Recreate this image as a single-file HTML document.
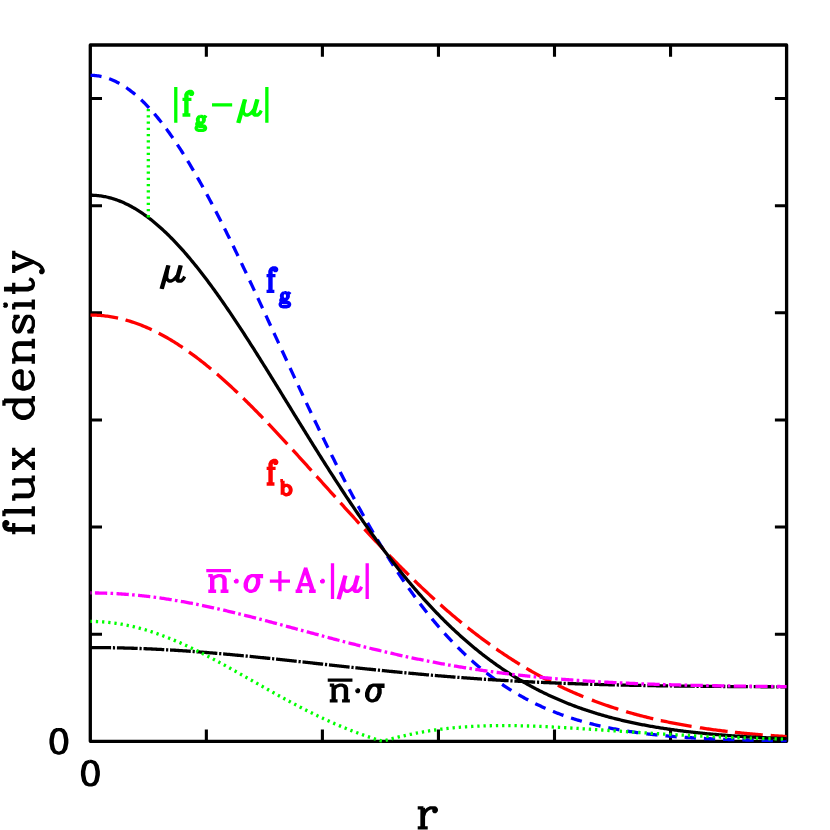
<!DOCTYPE html><html><head><meta charset="utf-8"><style>html,body{margin:0;padding:0;background:#fff}svg{display:block}</style></head><body><svg width="830" height="830" viewBox="0 0 830 830">
<rect width="830" height="830" fill="#fff"/>
<g fill="none" stroke="#000" stroke-width="3.3" stroke-linejoin="round" stroke-linecap="butt">
<path d="M90.3 45.0H786.6V741.3H90.3Z"/>
<path stroke-width="3.1" d="M206.35 741.3v-11.7M206.35 45.0v11.7M322.4 741.3v-11.7M322.4 45.0v11.7M438.45 741.3v-11.7M438.45 45.0v11.7M554.5 741.3v-11.7M554.5 45.0v11.7M670.55 741.3v-11.7M670.55 45.0v11.7M90.3 634.18h11.7M786.6 634.18h-11.7M90.3 527.05h11.7M786.6 527.05h-11.7M90.3 419.93h11.7M786.6 419.93h-11.7M90.3 312.81h11.7M786.6 312.81h-11.7M90.3 205.68h11.7M786.6 205.68h-11.7M90.3 98.56h11.7M786.6 98.56h-11.7"/>
</g>
<clipPath id="c"><rect x="90.3" y="43.0" width="697.9000000000001" height="699.9"/></clipPath><g clip-path="url(#c)">
<path d="M90.3 75.32L91.46 75.33L92.62 75.37L93.78 75.43L94.94 75.52L96.1 75.64L97.26 75.79L98.42 75.95L99.58 76.15L100.74 76.37L101.91 76.62L103.07 76.89L104.23 77.19L105.39 77.51L106.55 77.86L107.71 78.24L108.87 78.64L110.03 79.07L111.19 79.52L112.35 80L113.51 80.5L114.67 81.03L115.83 81.58L116.99 82.16L118.15 82.77L119.31 83.4L120.47 84.05L121.63 84.73L122.79 85.44L123.95 86.17L125.12 86.92L126.28 87.7L127.44 88.5L128.6 89.33L129.76 90.19L130.92 91.06L132.08 91.96L133.24 92.89L134.4 93.84L135.56 94.81L136.72 95.81L137.88 96.83L139.04 97.87L140.2 98.94L141.36 100.03L142.52 101.14L143.68 102.28L144.84 103.44L146 104.62L147.16 105.83L148.32 107.05L149.49 108.3L150.65 109.58L151.81 110.87L152.97 112.19L154.13 113.52L155.29 114.88L156.45 116.27L157.61 117.67L158.77 119.09L159.93 120.54L161.09 122L162.25 123.49L163.41 124.99L164.57 126.52L165.73 128.07L166.89 129.63L168.05 131.22L169.21 132.83L170.37 134.45L171.53 136.1L172.7 137.76L173.86 139.45L175.02 141.15L176.18 142.87L177.34 144.61L178.5 146.37L179.66 148.14L180.82 149.93L181.98 151.74L183.14 153.57L184.3 155.42L185.46 157.28L186.62 159.16L187.78 161.05L188.94 162.97L190.1 164.89L191.26 166.84L192.42 168.8L193.58 170.77L194.75 172.77L195.91 174.77L197.07 176.79L198.23 178.83L199.39 180.88L200.55 182.95L201.71 185.02L202.87 187.12L204.03 189.22L205.19 191.34L206.35 193.48L207.51 195.62L208.67 197.78L209.83 199.95L210.99 202.14L212.15 204.34L213.31 206.54L214.47 208.76L215.63 211L216.79 213.24L217.96 215.49L219.12 217.76L220.28 220.03L221.44 222.32L222.6 224.61L223.76 226.92L224.92 229.23L226.08 231.56L227.24 233.89L228.4 236.24L229.56 238.59L230.72 240.95L231.88 243.32L233.04 245.7L234.2 248.08L235.36 250.47L236.52 252.87L237.68 255.28L238.84 257.7L240 260.12L241.17 262.55L242.33 264.98L243.49 267.42L244.65 269.87L245.81 272.32L246.97 274.78L248.13 277.24L249.29 279.71L250.45 282.18L251.61 284.66L252.77 287.14L253.93 289.62L255.09 292.11L256.25 294.61L257.41 297.1L258.57 299.6L259.73 302.11L260.89 304.61L262.05 307.12L263.21 309.63L264.38 312.15L265.54 314.66L266.7 317.18L267.86 319.7L269.02 322.22L270.18 324.74L271.34 327.26L272.5 329.79L273.66 332.31L274.82 334.84L275.98 337.36L277.14 339.89L278.3 342.41L279.46 344.93L280.62 347.46L281.78 349.98L282.94 352.5L284.1 355.02L285.26 357.54L286.42 360.06L287.59 362.57L288.75 365.09L289.91 367.6L291.07 370.11L292.23 372.62L293.39 375.12L294.55 377.62L295.71 380.12L296.87 382.62L298.03 385.11L299.19 387.6L300.35 390.08L301.51 392.57L302.67 395.04L303.83 397.52L304.99 399.98L306.15 402.45L307.31 404.91L308.47 407.36L309.63 409.81L310.8 412.26L311.96 414.7L313.12 417.13L314.28 419.56L315.44 421.98L316.6 424.4L317.76 426.81L318.92 429.21L320.08 431.61L321.24 434.01L322.4 436.39L323.56 438.77L324.72 441.14L325.88 443.51L327.04 445.86L328.2 448.21L329.36 450.56L330.52 452.89L331.68 455.22L332.84 457.54L334.01 459.86L335.17 462.16L336.33 464.46L337.49 466.75L338.65 469.03L339.81 471.3L340.97 473.56L342.13 475.82L343.29 478.06L344.45 480.3L345.61 482.53L346.77 484.75L347.93 486.96L349.09 489.16L350.25 491.35L351.41 493.53L352.57 495.7L353.73 497.87L354.89 500.02L356.05 502.17L357.22 504.3L358.38 506.42L359.54 508.54L360.7 510.64L361.86 512.74L363.02 514.82L364.18 516.9L365.34 518.96L366.5 521.01L367.66 523.05L368.82 525.09L369.98 527.11L371.14 529.12L372.3 531.12L373.46 533.11L374.62 535.09L375.78 537.06L376.94 539.01L378.1 540.96L379.26 542.9L380.43 544.82L381.59 546.73L382.75 548.64L383.91 550.53L385.07 552.41L386.23 554.27L387.39 556.13L388.55 557.98L389.71 559.81L390.87 561.64L392.03 563.45L393.19 565.25L394.35 567.04L395.51 568.82L396.67 570.58L397.83 572.34L398.99 574.08L400.15 575.81L401.31 577.53L402.47 579.24L403.64 580.94L404.8 582.62L405.96 584.3L407.12 585.96L408.28 587.61L409.44 589.25L410.6 590.88L411.76 592.49L412.92 594.1L414.08 595.69L415.24 597.27L416.4 598.84L417.56 600.4L418.72 601.94L419.88 603.48L421.04 605L422.2 606.51L423.36 608.01L424.52 609.5L425.68 610.98L426.85 612.45L428.01 613.9L429.17 615.34L430.33 616.77L431.49 618.19L432.65 619.6L433.81 621L434.97 622.38L436.13 623.76L437.29 625.12L438.45 626.47L439.61 627.81L440.77 629.14L441.93 630.46L443.09 631.76L444.25 633.06L445.41 634.34L446.57 635.61L447.73 636.88L448.89 638.13L450.06 639.37L451.22 640.6L452.38 641.81L453.54 643.02L454.7 644.22L455.86 645.4L457.02 646.58L458.18 647.74L459.34 648.89L460.5 650.04L461.66 651.17L462.82 652.29L463.98 653.4L465.14 654.5L466.3 655.59L467.46 656.67L468.62 657.74L469.78 658.8L470.94 659.85L472.1 660.89L473.27 661.91L474.43 662.93L475.59 663.94L476.75 664.94L477.91 665.93L479.07 666.91L480.23 667.88L481.39 668.83L482.55 669.78L483.71 670.72L484.87 671.65L486.03 672.57L487.19 673.48L488.35 674.38L489.51 675.28L490.67 676.16L491.83 677.03L492.99 677.9L494.15 678.75L495.31 679.6L496.48 680.43L497.64 681.26L498.8 682.08L499.96 682.89L501.12 683.69L502.28 684.48L503.44 685.27L504.6 686.04L505.76 686.81L506.92 687.57L508.08 688.31L509.24 689.06L510.4 689.79L511.56 690.51L512.72 691.23L513.88 691.94L515.04 692.64L516.2 693.33L517.36 694.01L518.52 694.69L519.69 695.36L520.85 696.02L522.01 696.67L523.17 697.31L524.33 697.95L525.49 698.58L526.65 699.2L527.81 699.82L528.97 700.42L530.13 701.02L531.29 701.62L532.45 702.2L533.61 702.78L534.77 703.35L535.93 703.92L537.09 704.47L538.25 705.02L539.41 705.57L540.57 706.1L541.73 706.63L542.89 707.16L544.06 707.67L545.22 708.18L546.38 708.69L547.54 709.19L548.7 709.68L549.86 710.16L551.02 710.64L552.18 711.11L553.34 711.58L554.5 712.04L555.66 712.49L556.82 712.94L557.98 713.38L559.14 713.82L560.3 714.25L561.46 714.68L562.62 715.1L563.78 715.51L564.94 715.92L566.11 716.32L567.27 716.72L568.43 717.11L569.59 717.5L570.75 717.88L571.91 718.25L573.07 718.62L574.23 718.99L575.39 719.35L576.55 719.71L577.71 720.06L578.87 720.4L580.03 720.75L581.19 721.08L582.35 721.41L583.51 721.74L584.67 722.06L585.83 722.38L586.99 722.69L588.15 723L589.32 723.31L590.48 723.61L591.64 723.9L592.8 724.2L593.96 724.48L595.12 724.77L596.28 725.04L597.44 725.32L598.6 725.59L599.76 725.86L600.92 726.12L602.08 726.38L603.24 726.63L604.4 726.88L605.56 727.13L606.72 727.38L607.88 727.62L609.04 727.85L610.2 728.09L611.36 728.32L612.52 728.54L613.69 728.76L614.85 728.98L616.01 729.2L617.17 729.41L618.33 729.62L619.49 729.83L620.65 730.03L621.81 730.23L622.97 730.43L624.13 730.62L625.29 730.81L626.45 731L627.61 731.18L628.77 731.36L629.93 731.54L631.09 731.72L632.25 731.89L633.41 732.06L634.57 732.23L635.74 732.39L636.9 732.56L638.06 732.72L639.22 732.87L640.38 733.03L641.54 733.18L642.7 733.33L643.86 733.47L645.02 733.62L646.18 733.76L647.34 733.9L648.5 734.04L649.66 734.17L650.82 734.31L651.98 734.44L653.14 734.57L654.3 734.69L655.46 734.82L656.62 734.94L657.78 735.06L658.95 735.18L660.11 735.29L661.27 735.41L662.43 735.52L663.59 735.63L664.75 735.74L665.91 735.85L667.07 735.95L668.23 736.05L669.39 736.16L670.55 736.25L671.71 736.35L672.87 736.45L674.03 736.54L675.19 736.64L676.35 736.73L677.51 736.82L678.67 736.9L679.83 736.99L680.99 737.07L682.15 737.16L683.32 737.24L684.48 737.32L685.64 737.4L686.8 737.48L687.96 737.55L689.12 737.63L690.28 737.7L691.44 737.77L692.6 737.84L693.76 737.91L694.92 737.98L696.08 738.05L697.24 738.11L698.4 738.18L699.56 738.24L700.72 738.3L701.88 738.36L703.04 738.42L704.2 738.48L705.37 738.54L706.53 738.6L707.69 738.65L708.85 738.71L710.01 738.76L711.17 738.81L712.33 738.86L713.49 738.92L714.65 738.96L715.81 739.01L716.97 739.06L718.13 739.11L719.29 739.15L720.45 739.2L721.61 739.24L722.77 739.29L723.93 739.33L725.09 739.37L726.25 739.41L727.41 739.45L728.58 739.49L729.74 739.53L730.9 739.57L732.06 739.6L733.22 739.64L734.38 739.68L735.54 739.71L736.7 739.74L737.86 739.78L739.02 739.81L740.18 739.84L741.34 739.87L742.5 739.91L743.66 739.94L744.82 739.97L745.98 739.99L747.14 740.02L748.3 740.05L749.46 740.08L750.62 740.11L751.79 740.13L752.95 740.16L754.11 740.18L755.27 740.21L756.43 740.23L757.59 740.26L758.75 740.28L759.91 740.3L761.07 740.32L762.23 740.35L763.39 740.37L764.55 740.39L765.71 740.41L766.87 740.43L768.03 740.45L769.19 740.47L770.35 740.49L771.51 740.5L772.67 740.52L773.83 740.54L775 740.56L776.16 740.57L777.32 740.59L778.48 740.61L779.64 740.62L780.8 740.64L781.96 740.65L783.12 740.67L784.28 740.68L785.44 740.7L786.6 740.71" fill="none" stroke="#0000ff" stroke-width="3.3" stroke-linecap="butt" stroke-linejoin="round" stroke-dasharray="11.3 7.96"/>
<path d="M90.3 315.07L90.53 315.07L91.92 315.08L93.32 315.11L94.71 315.15L96.1 315.2L97.5 315.28L98.89 315.36L100.28 315.46L101.67 315.58L103.07 315.72L104.46 315.86L105.85 316.03L107.24 316.2L108.64 316.4L110.03 316.61L111.42 316.83L112.81 317.07L114.21 317.33L115.6 317.6L116.99 317.88L118.08 318.11M125.55 319.96L125.58 319.97L126.97 320.36L128.36 320.76L129.76 321.19L131.15 321.62L132.54 322.07L133.93 322.54L135.33 323.02L136.72 323.51L138.11 324.02L139.51 324.54L140.9 325.08L142.29 325.63L143.68 326.2L145.08 326.78L146.47 327.37L147.86 327.98L149.25 328.6L150.65 329.24L151.75 329.75M158.65 333.16L158.77 333.22L160.16 333.95L161.55 334.69L162.95 335.45L164.34 336.22L165.73 337L167.13 337.79L168.52 338.6L169.91 339.42L171.3 340.25L172.7 341.1L174.09 341.96L175.48 342.83L176.87 343.71L178.27 344.61L179.66 345.52L181.05 346.44L182.44 347.37L182.67 347.52M189 351.92L189.17 352.04L190.57 353.04L191.96 354.06L193.35 355.08L194.75 356.11L196.14 357.16L197.53 358.22L198.92 359.28L200.32 360.36L201.71 361.45L203.1 362.55L204.49 363.66L205.89 364.78L207.28 365.91L208.67 367.05L210.06 368.2L211.11 369.07M216.98 374.06L217.03 374.1L218.42 375.3L219.81 376.52L221.2 377.75L222.6 378.98L223.99 380.22L225.38 381.48L226.77 382.74L228.17 384.01L229.56 385.28L230.95 386.57L232.35 387.86L233.74 389.16L235.13 390.47L236.52 391.79L237.69 392.9M243.23 398.24L243.25 398.26L244.65 399.62L246.04 400.99L247.43 402.36L248.82 403.74L250.22 405.13L251.61 406.52L253 407.92L254.39 409.33L255.79 410.74L257.18 412.16L258.57 413.58L259.97 415.01L261.36 416.44L262.75 417.88L262.97 418.11M268.3 423.66L268.32 423.69L269.71 425.15L271.11 426.62L272.5 428.09L273.89 429.57L275.28 431.05L276.68 432.54L278.07 434.03L279.46 435.52L280.85 437.02L282.25 438.52L283.64 440.02L285.03 441.53L286.42 443.04L287.42 444.12M292.62 449.8L292.69 449.87L294.08 451.4L295.48 452.93L296.87 454.46L298.26 455.99L299.65 457.53L301.05 459.06L302.44 460.6L303.83 462.14L305.22 463.68L306.62 465.23L308.01 466.77L309.4 468.32L310.8 469.86L311.41 470.55M316.56 476.28L316.6 476.32L317.99 477.87L319.38 479.42L320.78 480.97L322.17 482.52L323.56 484.07L324.95 485.62L326.35 487.17L327.74 488.72L329.13 490.27L330.52 491.82L331.92 493.37L333.31 494.92L334.7 496.47L335.28 497.11M340.43 502.82L340.5 502.9L341.9 504.44L343.29 505.98L344.68 507.52L346.07 509.06L347.47 510.59L348.86 512.13L350.25 513.66L351.64 515.19L353.04 516.71L354.43 518.24L355.82 519.76L357.22 521.28L358.61 522.79L359.28 523.53M364.5 529.19L364.64 529.34L366.03 530.84L367.43 532.34L368.82 533.83L370.21 535.32L371.61 536.81L373 538.3L374.39 539.78L375.78 541.26L377.18 542.73L378.57 544.2L379.96 545.67L381.35 547.13L382.75 548.59L383.69 549.58M389.03 555.13L389.24 555.34L390.64 556.78L392.03 558.21L393.42 559.64L394.82 561.06L396.21 562.47L397.6 563.89L398.99 565.29L400.39 566.69L401.78 568.09L403.17 569.48L404.56 570.87L405.96 572.25L407.35 573.63L408.74 575L408.75 575.01M414.26 580.38L414.31 580.43L415.7 581.78L417.1 583.12L418.49 584.45L419.88 585.78L421.27 587.1L422.67 588.42L424.06 589.73L425.45 591.03L426.85 592.33L428.24 593.63L429.63 594.91L431.02 596.19L432.42 597.47L433.81 598.74L434.68 599.53M440.42 604.68L440.54 604.78L441.93 606.02L443.32 607.24L444.72 608.46L446.11 609.68L447.5 610.89L448.89 612.09L450.29 613.28L451.68 614.47L453.07 615.65L454.46 616.83L455.86 617.99L457.25 619.16L458.64 620.31L460.04 621.46L461.43 622.6L461.72 622.84M467.71 627.68L467.93 627.84L469.32 628.95L470.71 630.05L472.1 631.14L473.5 632.22L474.89 633.3L476.28 634.37L477.67 635.43L479.07 636.49L480.46 637.54L481.85 638.58L483.25 639.62L484.64 640.65L486.03 641.67L487.42 642.69L488.82 643.69L490.04 644.57M496.32 649.02L496.48 649.12L497.87 650.09L499.26 651.04L500.65 651.99L502.05 652.94L503.44 653.88L504.83 654.81L506.22 655.73L507.62 656.65L509.01 657.56L510.4 658.46L511.79 659.35L513.19 660.24L514.58 661.13L515.97 662L517.36 662.87L518.76 663.73L519.75 664.35M526.35 668.32L526.42 668.36L527.81 669.18L529.2 669.99L530.59 670.8L531.99 671.59L533.38 672.39L534.77 673.17L536.16 673.95L537.56 674.73L538.95 675.49L540.34 676.25L541.73 677.01L543.13 677.75L544.52 678.49L545.91 679.23L547.3 679.96L548.7 680.68L550.09 681.39L550.88 681.8M557.78 685.23L557.98 685.33L559.37 686L560.77 686.67L562.16 687.33L563.55 687.99L564.94 688.63L566.34 689.28L567.73 689.91L569.12 690.55L570.51 691.17L571.91 691.79L573.3 692.4L574.69 693.01L576.09 693.61L577.48 694.21L578.87 694.8L580.26 695.38L581.66 695.96L583.05 696.54L583.34 696.65M591.89 700.04L592.1 700.12L593.49 700.66L594.89 701.18L596.28 701.7L597.67 702.22L599.06 702.73L600.46 703.23L601.85 703.73L603.24 704.23L604.63 704.71L606.03 705.2L607.42 705.68L608.81 706.15L610.2 706.62L611.6 707.08L612.99 707.54L614.38 708L615.77 708.44L617.17 708.89L618.32 709.25M626.17 711.64L626.22 711.66L627.61 712.07L629 712.47L630.4 712.87L631.79 713.26L633.18 713.65L634.57 714.04L635.97 714.42L637.36 714.8L638.75 715.17L640.14 715.54L641.54 715.9L642.93 716.26L644.32 716.62L645.72 716.97L647.11 717.32L648.5 717.66L649.89 718L651.29 718.33L652.68 718.66L653.24 718.8M660.79 720.52L660.8 720.52L662.19 720.82L663.59 721.12L664.98 721.42L666.37 721.71L667.76 722L669.16 722.29L670.55 722.57L671.94 722.85L673.34 723.13L674.73 723.4L676.12 723.67L677.51 723.93L678.91 724.2L680.3 724.45L681.69 724.71L683.08 724.96L684.48 725.21L685.87 725.46L687.26 725.7L688.65 725.94L690.05 726.17L691.44 726.41L691.58 726.43M699.87 727.75L700.03 727.78L701.42 727.99L702.81 728.2L704.2 728.4L705.6 728.61L706.99 728.81L708.38 729L709.77 729.2L711.17 729.39L712.56 729.58L713.95 729.77L715.35 729.95L716.74 730.14L718.13 730.32L719.52 730.49L720.92 730.67L722.31 730.84L723.7 731.01L725.09 731.18L726.49 731.34L727.62 731.47M734.88 732.29L735.07 732.31L736.47 732.46L737.86 732.6L739.25 732.75L740.64 732.89L742.04 733.03L743.43 733.17L744.82 733.31L746.21 733.44L747.61 733.57L749 733.7L750.39 733.83L751.79 733.96L753.18 734.08L754.57 734.2L755.96 734.33L757.36 734.44L758.75 734.56L760.14 734.68L761.53 734.79L762.75 734.89M770.69 735.5L770.82 735.51L772.21 735.61L773.6 735.71L775 735.81L776.39 735.9L777.78 736L779.17 736.09L780.57 736.18L781.96 736.27L783.35 736.36L784.74 736.45L786.14 736.54L786.6 736.57" fill="none" stroke="#ff0000" stroke-width="3.3" stroke-linecap="butt" stroke-linejoin="round"/>
<path d="M90.3 195.19L91.46 195.2L92.62 195.23L93.78 195.28L94.94 195.34L96.1 195.42L97.26 195.52L98.42 195.64L99.58 195.78L100.74 195.94L101.91 196.11L103.07 196.3L104.23 196.51L105.39 196.74L106.55 196.99L107.71 197.25L108.87 197.54L110.03 197.84L111.19 198.16L112.35 198.49L113.51 198.85L114.67 199.22L115.83 199.61L116.99 200.02L118.15 200.45L119.31 200.89L120.47 201.35L121.63 201.83L122.79 202.33L123.95 202.85L125.12 203.38L126.28 203.93L127.44 204.5L128.6 205.08L129.76 205.69L130.92 206.3L132.08 206.94L133.24 207.6L134.4 208.27L135.56 208.95L136.72 209.66L137.88 210.38L139.04 211.12L140.2 211.87L141.36 212.65L142.52 213.43L143.68 214.24L144.84 215.06L146 215.9L147.16 216.75L148.32 217.62L149.49 218.51L150.65 219.41L151.81 220.32L152.97 221.26L154.13 222.21L155.29 223.17L156.45 224.15L157.61 225.14L158.77 226.16L159.93 227.18L161.09 228.22L162.25 229.28L163.41 230.35L164.57 231.43L165.73 232.53L166.89 233.65L168.05 234.77L169.21 235.92L170.37 237.08L171.53 238.25L172.7 239.43L173.86 240.63L175.02 241.84L176.18 243.07L177.34 244.31L178.5 245.56L179.66 246.83L180.82 248.11L181.98 249.4L183.14 250.71L184.3 252.02L185.46 253.36L186.62 254.7L187.78 256.05L188.94 257.42L190.1 258.8L191.26 260.19L192.42 261.6L193.58 263.01L194.75 264.44L195.91 265.88L197.07 267.33L198.23 268.79L199.39 270.26L200.55 271.74L201.71 273.24L202.87 274.74L204.03 276.26L205.19 277.78L206.35 279.32L207.51 280.86L208.67 282.42L209.83 283.98L210.99 285.56L212.15 287.14L213.31 288.73L214.47 290.33L215.63 291.95L216.79 293.57L217.96 295.2L219.12 296.83L220.28 298.48L221.44 300.13L222.6 301.8L223.76 303.47L224.92 305.15L226.08 306.83L227.24 308.53L228.4 310.23L229.56 311.94L230.72 313.65L231.88 315.38L233.04 317.1L234.2 318.84L235.36 320.58L236.52 322.33L237.68 324.09L238.84 325.85L240 327.62L241.17 329.39L242.33 331.17L243.49 332.96L244.65 334.75L245.81 336.54L246.97 338.34L248.13 340.15L249.29 341.96L250.45 343.77L251.61 345.59L252.77 347.41L253.93 349.24L255.09 351.07L256.25 352.91L257.41 354.75L258.57 356.59L259.73 358.44L260.89 360.29L262.05 362.14L263.21 364L264.38 365.86L265.54 367.72L266.7 369.58L267.86 371.45L269.02 373.32L270.18 375.19L271.34 377.06L272.5 378.94L273.66 380.82L274.82 382.7L275.98 384.58L277.14 386.46L278.3 388.34L279.46 390.23L280.62 392.11L281.78 394L282.94 395.89L284.1 397.77L285.26 399.66L286.42 401.55L287.59 403.44L288.75 405.33L289.91 407.22L291.07 409.1L292.23 410.99L293.39 412.88L294.55 414.77L295.71 416.65L296.87 418.54L298.03 420.42L299.19 422.31L300.35 424.19L301.51 426.07L302.67 427.95L303.83 429.83L304.99 431.71L306.15 433.58L307.31 435.45L308.47 437.32L309.63 439.19L310.8 441.06L311.96 442.93L313.12 444.79L314.28 446.65L315.44 448.5L316.6 450.36L317.76 452.21L318.92 454.06L320.08 455.9L321.24 457.75L322.4 459.58L323.56 461.42L324.72 463.25L325.88 465.08L327.04 466.91L328.2 468.73L329.36 470.55L330.52 472.36L331.68 474.17L332.84 475.97L334.01 477.77L335.17 479.57L336.33 481.36L337.49 483.15L338.65 484.94L339.81 486.71L340.97 488.49L342.13 490.26L343.29 492.02L344.45 493.78L345.61 495.54L346.77 497.29L347.93 499.03L349.09 500.77L350.25 502.5L351.41 504.23L352.57 505.95L353.73 507.67L354.89 509.38L356.05 511.09L357.22 512.79L358.38 514.48L359.54 516.17L360.7 517.85L361.86 519.53L363.02 521.2L364.18 522.87L365.34 524.52L366.5 526.17L367.66 527.82L368.82 529.46L369.98 531.09L371.14 532.72L372.3 534.34L373.46 535.95L374.62 537.56L375.78 539.16L376.94 540.75L378.1 542.34L379.26 543.92L380.43 545.49L381.59 547.05L382.75 548.61L383.91 550.17L385.07 551.71L386.23 553.25L387.39 554.78L388.55 556.3L389.71 557.82L390.87 559.33L392.03 560.83L393.19 562.32L394.35 563.81L395.51 565.29L396.67 566.76L397.83 568.23L398.99 569.69L400.15 571.14L401.31 572.58L402.47 574.01L403.64 575.44L404.8 576.86L405.96 578.28L407.12 579.68L408.28 581.08L409.44 582.47L410.6 583.85L411.76 585.22L412.92 586.59L414.08 587.95L415.24 589.3L416.4 590.64L417.56 591.98L418.72 593.31L419.88 594.63L421.04 595.94L422.2 597.25L423.36 598.54L424.52 599.83L425.68 601.12L426.85 602.39L428.01 603.65L429.17 604.91L430.33 606.16L431.49 607.41L432.65 608.64L433.81 609.87L434.97 611.09L436.13 612.3L437.29 613.5L438.45 614.7L439.61 615.88L440.77 617.06L441.93 618.24L443.09 619.4L444.25 620.56L445.41 621.71L446.57 622.85L447.73 623.98L448.89 625.11L450.06 626.23L451.22 627.34L452.38 628.44L453.54 629.53L454.7 630.62L455.86 631.7L457.02 632.77L458.18 633.83L459.34 634.89L460.5 635.94L461.66 636.98L462.82 638.01L463.98 639.04L465.14 640.06L466.3 641.07L467.46 642.07L468.62 643.07L469.78 644.06L470.94 645.04L472.1 646.01L473.27 646.98L474.43 647.94L475.59 648.89L476.75 649.83L477.91 650.77L479.07 651.7L480.23 652.62L481.39 653.53L482.55 654.44L483.71 655.34L484.87 656.24L486.03 657.12L487.19 658L488.35 658.87L489.51 659.74L490.67 660.59L491.83 661.44L492.99 662.29L494.15 663.12L495.31 663.95L496.48 664.78L497.64 665.59L498.8 666.4L499.96 667.2L501.12 668L502.28 668.79L503.44 669.57L504.6 670.35L505.76 671.11L506.92 671.88L508.08 672.63L509.24 673.38L510.4 674.12L511.56 674.86L512.72 675.59L513.88 676.31L515.04 677.03L516.2 677.74L517.36 678.44L518.52 679.14L519.69 679.83L520.85 680.52L522.01 681.19L523.17 681.87L524.33 682.53L525.49 683.19L526.65 683.85L527.81 684.5L528.97 685.14L530.13 685.78L531.29 686.41L532.45 687.03L533.61 687.65L534.77 688.26L535.93 688.87L537.09 689.47L538.25 690.07L539.41 690.66L540.57 691.24L541.73 691.82L542.89 692.39L544.06 692.96L545.22 693.52L546.38 694.08L547.54 694.63L548.7 695.18L549.86 695.72L551.02 696.25L552.18 696.78L553.34 697.31L554.5 697.83L555.66 698.34L556.82 698.85L557.98 699.36L559.14 699.85L560.3 700.35L561.46 700.84L562.62 701.32L563.78 701.8L564.94 702.28L566.11 702.75L567.27 703.21L568.43 703.67L569.59 704.13L570.75 704.58L571.91 705.02L573.07 705.46L574.23 705.9L575.39 706.33L576.55 706.76L577.71 707.18L578.87 707.6L580.03 708.02L581.19 708.43L582.35 708.83L583.51 709.23L584.67 709.63L585.83 710.02L586.99 710.41L588.15 710.8L589.32 711.18L590.48 711.55L591.64 711.92L592.8 712.29L593.96 712.66L595.12 713.02L596.28 713.37L597.44 713.73L598.6 714.07L599.76 714.42L600.92 714.76L602.08 715.1L603.24 715.43L604.4 715.76L605.56 716.09L606.72 716.41L607.88 716.73L609.04 717.04L610.2 717.35L611.36 717.66L612.52 717.97L613.69 718.27L614.85 718.56L616.01 718.86L617.17 719.15L618.33 719.44L619.49 719.72L620.65 720L621.81 720.28L622.97 720.56L624.13 720.83L625.29 721.1L626.45 721.36L627.61 721.62L628.77 721.88L629.93 722.14L631.09 722.39L632.25 722.64L633.41 722.89L634.57 723.13L635.74 723.38L636.9 723.61L638.06 723.85L639.22 724.08L640.38 724.31L641.54 724.54L642.7 724.77L643.86 724.99L645.02 725.21L646.18 725.42L647.34 725.64L648.5 725.85L649.66 726.06L650.82 726.26L651.98 726.47L653.14 726.67L654.3 726.87L655.46 727.07L656.62 727.26L657.78 727.45L658.95 727.64L660.11 727.83L661.27 728.01L662.43 728.2L663.59 728.38L664.75 728.56L665.91 728.73L667.07 728.91L668.23 729.08L669.39 729.25L670.55 729.41L671.71 729.58L672.87 729.74L674.03 729.9L675.19 730.06L676.35 730.22L677.51 730.37L678.67 730.53L679.83 730.68L680.99 730.83L682.15 730.98L683.32 731.12L684.48 731.27L685.64 731.41L686.8 731.55L687.96 731.69L689.12 731.82L690.28 731.96L691.44 732.09L692.6 732.22L693.76 732.35L694.92 732.48L696.08 732.6L697.24 732.73L698.4 732.85L699.56 732.97L700.72 733.09L701.88 733.21L703.04 733.33L704.2 733.44L705.37 733.56L706.53 733.67L707.69 733.78L708.85 733.89L710.01 734L711.17 734.1L712.33 734.21L713.49 734.31L714.65 734.41L715.81 734.51L716.97 734.61L718.13 734.71L719.29 734.81L720.45 734.9L721.61 735L722.77 735.09L723.93 735.18L725.09 735.27L726.25 735.36L727.41 735.45L728.58 735.54L729.74 735.62L730.9 735.71L732.06 735.79L733.22 735.87L734.38 735.95L735.54 736.03L736.7 736.11L737.86 736.19L739.02 736.27L740.18 736.34L741.34 736.42L742.5 736.49L743.66 736.56L744.82 736.64L745.98 736.71L747.14 736.78L748.3 736.84L749.46 736.91L750.62 736.98L751.79 737.04L752.95 737.11L754.11 737.17L755.27 737.24L756.43 737.3L757.59 737.36L758.75 737.42L759.91 737.48L761.07 737.54L762.23 737.6L763.39 737.65L764.55 737.71L765.71 737.77L766.87 737.82L768.03 737.87L769.19 737.93L770.35 737.98L771.51 738.03L772.67 738.08L773.83 738.13L775 738.18L776.16 738.23L777.32 738.28L778.48 738.33L779.64 738.37L780.8 738.42L781.96 738.46L783.12 738.51L784.28 738.55L785.44 738.6L786.6 738.64" fill="none" stroke="#000" stroke-width="3.3" stroke-linecap="butt" stroke-linejoin="round"/>
<path d="M90.3 647.56L91.46 647.56L92.62 647.56L93.78 647.56L94.94 647.57L96.1 647.57L97.26 647.58L98.42 647.58L99.58 647.59L100.74 647.6L101.91 647.61L103.07 647.62L104.23 647.63L105.39 647.65L106.55 647.66L107.71 647.67L108.87 647.69L110.03 647.71L111.19 647.73L112.35 647.75L113.51 647.77L114.67 647.79L115.83 647.81L116.99 647.83L118.15 647.86L119.31 647.88L120.47 647.91L121.63 647.94L122.79 647.97L123.95 648L125.12 648.03L126.28 648.06L127.44 648.09L128.6 648.12L129.76 648.16L130.92 648.19L132.08 648.23L133.24 648.27L134.4 648.31L135.56 648.35L136.72 648.39L137.88 648.43L139.04 648.47L140.2 648.51L141.36 648.56L142.52 648.61L143.68 648.65L144.84 648.7L146 648.75L147.16 648.8L148.32 648.85L149.49 648.9L150.65 648.95L151.81 649L152.97 649.06L154.13 649.11L155.29 649.17L156.45 649.23L157.61 649.28L158.77 649.34L159.93 649.4L161.09 649.46L162.25 649.53L163.41 649.59L164.57 649.65L165.73 649.72L166.89 649.78L168.05 649.85L169.21 649.91L170.37 649.98L171.53 650.05L172.7 650.12L173.86 650.19L175.02 650.26L176.18 650.33L177.34 650.41L178.5 650.48L179.66 650.56L180.82 650.63L181.98 650.71L183.14 650.78L184.3 650.86L185.46 650.94L186.62 651.02L187.78 651.1L188.94 651.18L190.1 651.26L191.26 651.35L192.42 651.43L193.58 651.52L194.75 651.6L195.91 651.69L197.07 651.77L198.23 651.86L199.39 651.95L200.55 652.04L201.71 652.13L202.87 652.22L204.03 652.31L205.19 652.4L206.35 652.49L207.51 652.59L208.67 652.68L209.83 652.78L210.99 652.87L212.15 652.97L213.31 653.06L214.47 653.16L215.63 653.26L216.79 653.36L217.96 653.46L219.12 653.56L220.28 653.66L221.44 653.76L222.6 653.86L223.76 653.96L224.92 654.07L226.08 654.17L227.24 654.27L228.4 654.38L229.56 654.48L230.72 654.59L231.88 654.7L233.04 654.8L234.2 654.91L235.36 655.02L236.52 655.13L237.68 655.24L238.84 655.35L240 655.46L241.17 655.57L242.33 655.68L243.49 655.79L244.65 655.9L245.81 656.01L246.97 656.13L248.13 656.24L249.29 656.36L250.45 656.47L251.61 656.58L252.77 656.7L253.93 656.82L255.09 656.93L256.25 657.05L257.41 657.17L258.57 657.28L259.73 657.4L260.89 657.52L262.05 657.64L263.21 657.76L264.38 657.88L265.54 658L266.7 658.12L267.86 658.24L269.02 658.36L270.18 658.48L271.34 658.6L272.5 658.72L273.66 658.84L274.82 658.96L275.98 659.09L277.14 659.21L278.3 659.33L279.46 659.46L280.62 659.58L281.78 659.7L282.94 659.83L284.1 659.95L285.26 660.08L286.42 660.2L287.59 660.32L288.75 660.45L289.91 660.58L291.07 660.7L292.23 660.83L293.39 660.95L294.55 661.08L295.71 661.2L296.87 661.33L298.03 661.46L299.19 661.58L300.35 661.71L301.51 661.84L302.67 661.96L303.83 662.09L304.99 662.22L306.15 662.34L307.31 662.47L308.47 662.6L309.63 662.73L310.8 662.85L311.96 662.98L313.12 663.11L314.28 663.24L315.44 663.36L316.6 663.49L317.76 663.62L318.92 663.75L320.08 663.87L321.24 664L322.4 664.13L323.56 664.26L324.72 664.38L325.88 664.51L327.04 664.64L328.2 664.77L329.36 664.89L330.52 665.02L331.68 665.15L332.84 665.27L334.01 665.4L335.17 665.53L336.33 665.65L337.49 665.78L338.65 665.91L339.81 666.03L340.97 666.16L342.13 666.29L343.29 666.41L344.45 666.54L345.61 666.67L346.77 666.79L347.93 666.92L349.09 667.04L350.25 667.17L351.41 667.29L352.57 667.42L353.73 667.54L354.89 667.67L356.05 667.79L357.22 667.91L358.38 668.04L359.54 668.16L360.7 668.28L361.86 668.41L363.02 668.53L364.18 668.65L365.34 668.78L366.5 668.9L367.66 669.02L368.82 669.14L369.98 669.26L371.14 669.38L372.3 669.5L373.46 669.62L374.62 669.74L375.78 669.86L376.94 669.98L378.1 670.1L379.26 670.22L380.43 670.34L381.59 670.46L382.75 670.58L383.91 670.69L385.07 670.81L386.23 670.93L387.39 671.04L388.55 671.16L389.71 671.28L390.87 671.39L392.03 671.51L393.19 671.62L394.35 671.74L395.51 671.85L396.67 671.96L397.83 672.08L398.99 672.19L400.15 672.3L401.31 672.42L402.47 672.53L403.64 672.64L404.8 672.75L405.96 672.86L407.12 672.97L408.28 673.08L409.44 673.19L410.6 673.3L411.76 673.41L412.92 673.51L414.08 673.62L415.24 673.73L416.4 673.83L417.56 673.94L418.72 674.05L419.88 674.15L421.04 674.26L422.2 674.36L423.36 674.46L424.52 674.57L425.68 674.67L426.85 674.77L428.01 674.88L429.17 674.98L430.33 675.08L431.49 675.18L432.65 675.28L433.81 675.38L434.97 675.48L436.13 675.58L437.29 675.67L438.45 675.77L439.61 675.87L440.77 675.97L441.93 676.06L443.09 676.16L444.25 676.25L445.41 676.35L446.57 676.44L447.73 676.54L448.89 676.63L450.06 676.72L451.22 676.81L452.38 676.91L453.54 677L454.7 677.09L455.86 677.18L457.02 677.27L458.18 677.36L459.34 677.44L460.5 677.53L461.66 677.62L462.82 677.71L463.98 677.79L465.14 677.88L466.3 677.96L467.46 678.05L468.62 678.13L469.78 678.22L470.94 678.3L472.1 678.38L473.27 678.47L474.43 678.55L475.59 678.63L476.75 678.71L477.91 678.79L479.07 678.87L480.23 678.95L481.39 679.03L482.55 679.11L483.71 679.18L484.87 679.26L486.03 679.34L487.19 679.41L488.35 679.49L489.51 679.56L490.67 679.64L491.83 679.71L492.99 679.79L494.15 679.86L495.31 679.93L496.48 680L497.64 680.07L498.8 680.14L499.96 680.21L501.12 680.28L502.28 680.35L503.44 680.42L504.6 680.49L505.76 680.56L506.92 680.63L508.08 680.69L509.24 680.76L510.4 680.82L511.56 680.89L512.72 680.95L513.88 681.02L515.04 681.08L516.2 681.15L517.36 681.21L518.52 681.27L519.69 681.33L520.85 681.39L522.01 681.45L523.17 681.51L524.33 681.57L525.49 681.63L526.65 681.69L527.81 681.75L528.97 681.81L530.13 681.87L531.29 681.92L532.45 681.98L533.61 682.03L534.77 682.09L535.93 682.14L537.09 682.2L538.25 682.25L539.41 682.31L540.57 682.36L541.73 682.41L542.89 682.46L544.06 682.52L545.22 682.57L546.38 682.62L547.54 682.67L548.7 682.72L549.86 682.77L551.02 682.82L552.18 682.87L553.34 682.91L554.5 682.96L555.66 683.01L556.82 683.06L557.98 683.1L559.14 683.15L560.3 683.19L561.46 683.24L562.62 683.28L563.78 683.33L564.94 683.37L566.11 683.41L567.27 683.46L568.43 683.5L569.59 683.54L570.75 683.58L571.91 683.63L573.07 683.67L574.23 683.71L575.39 683.75L576.55 683.79L577.71 683.83L578.87 683.87L580.03 683.9L581.19 683.94L582.35 683.98L583.51 684.02L584.67 684.06L585.83 684.09L586.99 684.13L588.15 684.16L589.32 684.2L590.48 684.24L591.64 684.27L592.8 684.31L593.96 684.34L595.12 684.37L596.28 684.41L597.44 684.44L598.6 684.47L599.76 684.51L600.92 684.54L602.08 684.57L603.24 684.6L604.4 684.63L605.56 684.66L606.72 684.69L607.88 684.72L609.04 684.75L610.2 684.78L611.36 684.81L612.52 684.84L613.69 684.87L614.85 684.9L616.01 684.93L617.17 684.95L618.33 684.98L619.49 685.01L620.65 685.03L621.81 685.06L622.97 685.09L624.13 685.11L625.29 685.14L626.45 685.16L627.61 685.19L628.77 685.21L629.93 685.24L631.09 685.26L632.25 685.29L633.41 685.31L634.57 685.33L635.74 685.36L636.9 685.38L638.06 685.4L639.22 685.42L640.38 685.45L641.54 685.47L642.7 685.49L643.86 685.51L645.02 685.53L646.18 685.55L647.34 685.57L648.5 685.59L649.66 685.61L650.82 685.63L651.98 685.65L653.14 685.67L654.3 685.69L655.46 685.71L656.62 685.73L657.78 685.75L658.95 685.77L660.11 685.78L661.27 685.8L662.43 685.82L663.59 685.84L664.75 685.85L665.91 685.87L667.07 685.89L668.23 685.9L669.39 685.92L670.55 685.94L671.71 685.95L672.87 685.97L674.03 685.98L675.19 686L676.35 686.02L677.51 686.03L678.67 686.05L679.83 686.06L680.99 686.07L682.15 686.09L683.32 686.1L684.48 686.12L685.64 686.13L686.8 686.14L687.96 686.16L689.12 686.17L690.28 686.18L691.44 686.2L692.6 686.21L693.76 686.22L694.92 686.23L696.08 686.25L697.24 686.26L698.4 686.27L699.56 686.28L700.72 686.29L701.88 686.31L703.04 686.32L704.2 686.33L705.37 686.34L706.53 686.35L707.69 686.36L708.85 686.37L710.01 686.38L711.17 686.39L712.33 686.4L713.49 686.41L714.65 686.42L715.81 686.43L716.97 686.44L718.13 686.45L719.29 686.46L720.45 686.47L721.61 686.48L722.77 686.49L723.93 686.5L725.09 686.51L726.25 686.52L727.41 686.52L728.58 686.53L729.74 686.54L730.9 686.55L732.06 686.56L733.22 686.57L734.38 686.57L735.54 686.58L736.7 686.59L737.86 686.6L739.02 686.6L740.18 686.61L741.34 686.62L742.5 686.63L743.66 686.63L744.82 686.64L745.98 686.65L747.14 686.65L748.3 686.66L749.46 686.67L750.62 686.67L751.79 686.68L752.95 686.69L754.11 686.69L755.27 686.7L756.43 686.71L757.59 686.71L758.75 686.72L759.91 686.72L761.07 686.73L762.23 686.73L763.39 686.74L764.55 686.75L765.71 686.75L766.87 686.76L768.03 686.76L769.19 686.77L770.35 686.77L771.51 686.78L772.67 686.78L773.83 686.79L775 686.79L776.16 686.8L777.32 686.8L778.48 686.81L779.64 686.81L780.8 686.82L781.96 686.82L783.12 686.82L784.28 686.83L785.44 686.83L786.6 686.84" fill="none" stroke="#000" stroke-width="3.3" stroke-linecap="butt" stroke-linejoin="round" stroke-dasharray="20.8 1.8 2.2 1.8"/>
<path d="M90.3 592.95L91.46 592.95L92.62 592.95L93.78 592.96L94.94 592.97L96.1 592.98L97.26 593L98.42 593.02L99.58 593.04L100.74 593.06L101.91 593.09L103.07 593.12L104.23 593.15L105.39 593.19L106.55 593.23L107.71 593.27L108.87 593.31L110.03 593.36L111.19 593.41L112.35 593.47L113.51 593.52L114.67 593.58L115.83 593.64L116.99 593.71L118.15 593.77L119.31 593.84L120.47 593.92L121.63 593.99L122.79 594.07L123.95 594.15L125.12 594.23L126.28 594.32L127.44 594.41L128.6 594.5L129.76 594.6L130.92 594.69L132.08 594.79L133.24 594.9L134.4 595L135.56 595.11L136.72 595.22L137.88 595.34L139.04 595.45L140.2 595.57L141.36 595.69L142.52 595.82L143.68 595.95L144.84 596.07L146 596.21L147.16 596.34L148.32 596.48L149.49 596.62L150.65 596.76L151.81 596.91L152.97 597.05L154.13 597.2L155.29 597.36L156.45 597.51L157.61 597.67L158.77 597.83L159.93 597.99L161.09 598.16L162.25 598.32L163.41 598.49L164.57 598.66L165.73 598.84L166.89 599.02L168.05 599.19L169.21 599.38L170.37 599.56L171.53 599.74L172.7 599.93L173.86 600.12L175.02 600.32L176.18 600.51L177.34 600.71L178.5 600.91L179.66 601.11L180.82 601.31L181.98 601.52L183.14 601.73L184.3 601.93L185.46 602.15L186.62 602.36L187.78 602.58L188.94 602.79L190.1 603.01L191.26 603.24L192.42 603.46L193.58 603.69L194.75 603.91L195.91 604.14L197.07 604.38L198.23 604.61L199.39 604.85L200.55 605.08L201.71 605.32L202.87 605.56L204.03 605.8L205.19 606.05L206.35 606.29L207.51 606.54L208.67 606.79L209.83 607.04L210.99 607.3L212.15 607.55L213.31 607.81L214.47 608.06L215.63 608.32L216.79 608.58L217.96 608.85L219.12 609.11L220.28 609.37L221.44 609.64L222.6 609.91L223.76 610.18L224.92 610.45L226.08 610.72L227.24 611L228.4 611.27L229.56 611.55L230.72 611.82L231.88 612.1L233.04 612.38L234.2 612.66L235.36 612.95L236.52 613.23L237.68 613.52L238.84 613.8L240 614.09L241.17 614.38L242.33 614.67L243.49 614.96L244.65 615.25L245.81 615.54L246.97 615.83L248.13 616.13L249.29 616.42L250.45 616.72L251.61 617.01L252.77 617.31L253.93 617.61L255.09 617.91L256.25 618.21L257.41 618.51L258.57 618.81L259.73 619.11L260.89 619.42L262.05 619.72L263.21 620.03L264.38 620.33L265.54 620.64L266.7 620.94L267.86 621.25L269.02 621.56L270.18 621.87L271.34 622.18L272.5 622.48L273.66 622.79L274.82 623.1L275.98 623.41L277.14 623.73L278.3 624.04L279.46 624.35L280.62 624.66L281.78 624.97L282.94 625.29L284.1 625.6L285.26 625.91L286.42 626.23L287.59 626.54L288.75 626.85L289.91 627.17L291.07 627.48L292.23 627.8L293.39 628.11L294.55 628.42L295.71 628.74L296.87 629.05L298.03 629.37L299.19 629.68L300.35 630L301.51 630.31L302.67 630.63L303.83 630.94L304.99 631.26L306.15 631.57L307.31 631.89L308.47 632.2L309.63 632.51L310.8 632.83L311.96 633.14L313.12 633.46L314.28 633.77L315.44 634.08L316.6 634.4L317.76 634.71L318.92 635.02L320.08 635.33L321.24 635.65L322.4 635.96L323.56 636.27L324.72 636.58L325.88 636.89L327.04 637.2L328.2 637.51L329.36 637.82L330.52 638.13L331.68 638.43L332.84 638.74L334.01 639.05L335.17 639.36L336.33 639.66L337.49 639.97L338.65 640.27L339.81 640.58L340.97 640.88L342.13 641.18L343.29 641.49L344.45 641.79L345.61 642.09L346.77 642.39L347.93 642.69L349.09 642.99L350.25 643.29L351.41 643.58L352.57 643.88L353.73 644.18L354.89 644.47L356.05 644.77L357.22 645.06L358.38 645.36L359.54 645.65L360.7 645.94L361.86 646.23L363.02 646.52L364.18 646.81L365.34 647.1L366.5 647.38L367.66 647.67L368.82 647.96L369.98 648.24L371.14 648.52L372.3 648.81L373.46 649.09L374.62 649.37L375.78 649.65L376.94 649.93L378.1 650.21L379.26 650.48L380.43 650.76L381.59 651.03L382.75 651.31L383.91 651.58L385.07 651.85L386.23 652.12L387.39 652.39L388.55 652.66L389.71 652.93L390.87 653.2L392.03 653.46L393.19 653.72L394.35 653.99L395.51 654.25L396.67 654.51L397.83 654.77L398.99 655.03L400.15 655.29L401.31 655.54L402.47 655.8L403.64 656.05L404.8 656.31L405.96 656.56L407.12 656.81L408.28 657.06L409.44 657.31L410.6 657.55L411.76 657.8L412.92 658.04L414.08 658.29L415.24 658.53L416.4 658.77L417.56 659.01L418.72 659.25L419.88 659.48L421.04 659.72L422.2 659.96L423.36 660.19L424.52 660.42L425.68 660.65L426.85 660.88L428.01 661.11L429.17 661.34L430.33 661.56L431.49 661.79L432.65 662.01L433.81 662.24L434.97 662.46L436.13 662.68L437.29 662.89L438.45 663.11L439.61 663.33L440.77 663.54L441.93 663.76L443.09 663.97L444.25 664.18L445.41 664.39L446.57 664.6L447.73 664.8L448.89 665.01L450.06 665.21L451.22 665.42L452.38 665.62L453.54 665.82L454.7 666.02L455.86 666.22L457.02 666.41L458.18 666.61L459.34 666.8L460.5 667L461.66 667.19L462.82 667.38L463.98 667.57L465.14 667.75L466.3 667.94L467.46 668.13L468.62 668.31L469.78 668.49L470.94 668.67L472.1 668.85L473.27 669.03L474.43 669.21L475.59 669.39L476.75 669.56L477.91 669.74L479.07 669.91L480.23 670.08L481.39 670.25L482.55 670.42L483.71 670.59L484.87 670.75L486.03 670.92L487.19 671.08L488.35 671.25L489.51 671.41L490.67 671.57L491.83 671.73L492.99 671.88L494.15 672.04L495.31 672.2L496.48 672.35L497.64 672.5L498.8 672.65L499.96 672.81L501.12 672.95L502.28 673.1L503.44 673.25L504.6 673.4L505.76 673.54L506.92 673.68L508.08 673.83L509.24 673.97L510.4 674.11L511.56 674.25L512.72 674.38L513.88 674.52L515.04 674.65L516.2 674.79L517.36 674.92L518.52 675.05L519.69 675.19L520.85 675.31L522.01 675.44L523.17 675.57L524.33 675.7L525.49 675.82L526.65 675.95L527.81 676.07L528.97 676.19L530.13 676.31L531.29 676.43L532.45 676.55L533.61 676.67L534.77 676.79L535.93 676.9L537.09 677.02L538.25 677.13L539.41 677.24L540.57 677.35L541.73 677.46L542.89 677.57L544.06 677.68L545.22 677.79L546.38 677.9L547.54 678L548.7 678.11L549.86 678.21L551.02 678.31L552.18 678.41L553.34 678.51L554.5 678.61L555.66 678.71L556.82 678.81L557.98 678.91L559.14 679L560.3 679.1L561.46 679.19L562.62 679.29L563.78 679.38L564.94 679.47L566.11 679.56L567.27 679.65L568.43 679.74L569.59 679.83L570.75 679.91L571.91 680L573.07 680.08L574.23 680.17L575.39 680.25L576.55 680.33L577.71 680.42L578.87 680.5L580.03 680.58L581.19 680.66L582.35 680.73L583.51 680.81L584.67 680.89L585.83 680.96L586.99 681.04L588.15 681.11L589.32 681.19L590.48 681.26L591.64 681.33L592.8 681.4L593.96 681.47L595.12 681.54L596.28 681.61L597.44 681.68L598.6 681.75L599.76 681.82L600.92 681.88L602.08 681.95L603.24 682.01L604.4 682.08L605.56 682.14L606.72 682.2L607.88 682.27L609.04 682.33L610.2 682.39L611.36 682.45L612.52 682.51L613.69 682.57L614.85 682.62L616.01 682.68L617.17 682.74L618.33 682.79L619.49 682.85L620.65 682.9L621.81 682.96L622.97 683.01L624.13 683.07L625.29 683.12L626.45 683.17L627.61 683.22L628.77 683.27L629.93 683.32L631.09 683.37L632.25 683.42L633.41 683.47L634.57 683.52L635.74 683.56L636.9 683.61L638.06 683.66L639.22 683.7L640.38 683.75L641.54 683.79L642.7 683.84L643.86 683.88L645.02 683.92L646.18 683.97L647.34 684.01L648.5 684.05L649.66 684.09L650.82 684.13L651.98 684.17L653.14 684.21L654.3 684.25L655.46 684.29L656.62 684.33L657.78 684.36L658.95 684.4L660.11 684.44L661.27 684.47L662.43 684.51L663.59 684.54L664.75 684.58L665.91 684.61L667.07 684.65L668.23 684.68L669.39 684.72L670.55 684.75L671.71 684.78L672.87 684.81L674.03 684.85L675.19 684.88L676.35 684.91L677.51 684.94L678.67 684.97L679.83 685L680.99 685.03L682.15 685.06L683.32 685.08L684.48 685.11L685.64 685.14L686.8 685.17L687.96 685.2L689.12 685.22L690.28 685.25L691.44 685.28L692.6 685.3L693.76 685.33L694.92 685.35L696.08 685.38L697.24 685.4L698.4 685.43L699.56 685.45L700.72 685.47L701.88 685.5L703.04 685.52L704.2 685.54L705.37 685.57L706.53 685.59L707.69 685.61L708.85 685.63L710.01 685.65L711.17 685.67L712.33 685.69L713.49 685.71L714.65 685.73L715.81 685.75L716.97 685.77L718.13 685.79L719.29 685.81L720.45 685.83L721.61 685.85L722.77 685.87L723.93 685.89L725.09 685.9L726.25 685.92L727.41 685.94L728.58 685.96L729.74 685.97L730.9 685.99L732.06 686.01L733.22 686.02L734.38 686.04L735.54 686.06L736.7 686.07L737.86 686.09L739.02 686.1L740.18 686.12L741.34 686.13L742.5 686.15L743.66 686.16L744.82 686.17L745.98 686.19L747.14 686.2L748.3 686.22L749.46 686.23L750.62 686.24L751.79 686.26L752.95 686.27L754.11 686.28L755.27 686.29L756.43 686.31L757.59 686.32L758.75 686.33L759.91 686.34L761.07 686.35L762.23 686.36L763.39 686.38L764.55 686.39L765.71 686.4L766.87 686.41L768.03 686.42L769.19 686.43L770.35 686.44L771.51 686.45L772.67 686.46L773.83 686.47L775 686.48L776.16 686.49L777.32 686.5L778.48 686.51L779.64 686.52L780.8 686.53L781.96 686.54L783.12 686.55L784.28 686.55L785.44 686.56L786.6 686.57" fill="none" stroke="#ff00ff" stroke-width="3.3" stroke-linecap="butt" stroke-linejoin="round" stroke-dasharray="12.3 3.3 2.6 3.4" stroke-dashoffset="16.98"/>
<path d="M90.3 621.42L91.46 621.43L92.62 621.44L93.78 621.46L94.94 621.48L96.1 621.52L97.26 621.56L98.42 621.61L99.58 621.67L100.74 621.73L101.91 621.81L103.07 621.89L104.23 621.98L105.39 622.07L106.55 622.17L107.71 622.28L108.87 622.4L110.03 622.53L111.19 622.66L112.35 622.8L113.51 622.95L114.67 623.11L115.83 623.27L116.99 623.44L118.15 623.62L119.31 623.8L120.47 624L121.63 624.2L122.79 624.4L123.95 624.62L125.12 624.84L126.28 625.07L127.44 625.31L128.6 625.55L129.76 625.8L130.92 626.06L132.08 626.32L133.24 626.59L134.4 626.87L135.56 627.16L136.72 627.45L137.88 627.75L139.04 628.05L140.2 628.36L141.36 628.68L142.52 629.01L143.68 629.34L144.84 629.68L146 630.03L147.16 630.38L148.32 630.73L149.49 631.1L150.65 631.47L151.81 631.85L152.97 632.23L154.13 632.62L155.29 633.01L156.45 633.42L157.61 633.82L158.77 634.24L159.93 634.65L161.09 635.08L162.25 635.51L163.41 635.95L164.57 636.39L165.73 636.84L166.89 637.29L168.05 637.75L169.21 638.21L170.37 638.68L171.53 639.15L172.7 639.63L173.86 640.12L175.02 640.61L176.18 641.1L177.34 641.6L178.5 642.1L179.66 642.61L180.82 643.12L181.98 643.64L183.14 644.17L184.3 644.69L185.46 645.22L186.62 645.76L187.78 646.3L188.94 646.84L190.1 647.39L191.26 647.95L192.42 648.5L193.58 649.06L194.75 649.63L195.91 650.19L197.07 650.77L198.23 651.34L199.39 651.92L200.55 652.5L201.71 653.09L202.87 653.68L204.03 654.27L205.19 654.86L206.35 655.46L207.51 656.06L208.67 656.67L209.83 657.27L210.99 657.88L212.15 658.5L213.31 659.11L214.47 659.73L215.63 660.35L216.79 660.97L217.96 661.6L219.12 662.22L220.28 662.85L221.44 663.48L222.6 664.12L223.76 664.75L224.92 665.39L226.08 666.03L227.24 666.67L228.4 667.31L229.56 667.95L230.72 668.6L231.88 669.24L233.04 669.89L234.2 670.54L235.36 671.19L236.52 671.84L237.68 672.49L238.84 673.15L240 673.8L241.17 674.45L242.33 675.11L243.49 675.77L244.65 676.42L245.81 677.08L246.97 677.74L248.13 678.39L249.29 679.05L250.45 679.71L251.61 680.37L252.77 681.03L253.93 681.68L255.09 682.34L256.25 683L257.41 683.66L258.57 684.31L259.73 684.97L260.89 685.63L262.05 686.28L263.21 686.94L264.38 687.59L265.54 688.24L266.7 688.9L267.86 689.55L269.02 690.2L270.18 690.85L271.34 691.5L272.5 692.15L273.66 692.79L274.82 693.44L275.98 694.08L277.14 694.73L278.3 695.37L279.46 696.01L280.62 696.64L281.78 697.28L282.94 697.92L284.1 698.55L285.26 699.18L286.42 699.81L287.59 700.44L288.75 701.06L289.91 701.69L291.07 702.31L292.23 702.93L293.39 703.54L294.55 704.16L295.71 704.77L296.87 705.38L298.03 705.99L299.19 706.59L300.35 707.19L301.51 707.79L302.67 708.39L303.83 708.99L304.99 709.58L306.15 710.17L307.31 710.75L308.47 711.34L309.63 711.92L310.8 712.5L311.96 713.07L313.12 713.64L314.28 714.21L315.44 714.78L316.6 715.34L317.76 715.9L318.92 716.46L320.08 717.01L321.24 717.56L322.4 718.11L323.56 718.65L324.72 719.19L325.88 719.72L327.04 720.26L328.2 720.79L329.36 721.31L330.52 721.84L331.68 722.35L332.84 722.87L334.01 723.38L335.17 723.89L336.33 724.39L337.49 724.89L338.65 725.39L339.81 725.88L340.97 726.37L342.13 726.86L343.29 727.34L344.45 727.82L345.61 728.29L346.77 728.76L347.93 729.23L349.09 729.69L350.25 730.15L351.41 730.6L352.57 731.05L353.73 731.5L354.89 731.94L356.05 732.38L357.22 732.81L358.38 733.24L359.54 733.67L360.7 734.09L361.86 734.51L363.02 734.92L364.18 735.33L365.34 735.74L366.5 736.14L367.66 736.53L368.82 736.93L369.98 737.32L371.14 737.7L372.3 738.08L373.46 738.46L374.62 738.83L375.78 739.2L376.94 739.56L378.1 739.92L379.26 740.28L380.43 740.63L381.59 740.98L382.75 741.28L383.91 740.94L385.07 740.6L386.23 740.27L387.39 739.95L388.55 739.62L389.71 739.31L390.87 738.99L392.03 738.68L393.19 738.38L394.35 738.07L395.51 737.78L396.67 737.48L397.83 737.19L398.99 736.91L400.15 736.62L401.31 736.35L402.47 736.07L403.64 735.8L404.8 735.54L405.96 735.28L407.12 735.02L408.28 734.77L409.44 734.52L410.6 734.27L411.76 734.03L412.92 733.79L414.08 733.56L415.24 733.33L416.4 733.1L417.56 732.88L418.72 732.66L419.88 732.45L421.04 732.24L422.2 732.03L423.36 731.83L424.52 731.63L425.68 731.44L426.85 731.24L428.01 731.06L429.17 730.87L430.33 730.69L431.49 730.51L432.65 730.34L433.81 730.17L434.97 730L436.13 729.84L437.29 729.68L438.45 729.53L439.61 729.37L440.77 729.23L441.93 729.08L443.09 728.94L444.25 728.8L445.41 728.67L446.57 728.53L447.73 728.4L448.89 728.28L450.06 728.16L451.22 728.04L452.38 727.92L453.54 727.81L454.7 727.7L455.86 727.6L457.02 727.49L458.18 727.39L459.34 727.3L460.5 727.2L461.66 727.11L462.82 727.02L463.98 726.94L465.14 726.86L466.3 726.78L467.46 726.7L468.62 726.63L469.78 726.56L470.94 726.49L472.1 726.43L473.27 726.36L474.43 726.3L475.59 726.25L476.75 726.19L477.91 726.14L479.07 726.09L480.23 726.04L481.39 726L482.55 725.96L483.71 725.92L484.87 725.88L486.03 725.85L487.19 725.82L488.35 725.79L489.51 725.76L490.67 725.74L491.83 725.71L492.99 725.69L494.15 725.67L495.31 725.66L496.48 725.64L497.64 725.63L498.8 725.62L499.96 725.62L501.12 725.61L502.28 725.61L503.44 725.6L504.6 725.6L505.76 725.61L506.92 725.61L508.08 725.62L509.24 725.63L510.4 725.64L511.56 725.65L512.72 725.66L513.88 725.68L515.04 725.69L516.2 725.71L517.36 725.73L518.52 725.75L519.69 725.78L520.85 725.8L522.01 725.83L523.17 725.85L524.33 725.88L525.49 725.91L526.65 725.95L527.81 725.98L528.97 726.02L530.13 726.05L531.29 726.09L532.45 726.13L533.61 726.17L534.77 726.21L535.93 726.25L537.09 726.3L538.25 726.34L539.41 726.39L540.57 726.44L541.73 726.49L542.89 726.54L544.06 726.59L545.22 726.64L546.38 726.69L547.54 726.75L548.7 726.8L549.86 726.86L551.02 726.91L552.18 726.97L553.34 727.03L554.5 727.09L555.66 727.15L556.82 727.21L557.98 727.27L559.14 727.33L560.3 727.4L561.46 727.46L562.62 727.53L563.78 727.59L564.94 727.66L566.11 727.73L567.27 727.79L568.43 727.86L569.59 727.93L570.75 728L571.91 728.07L573.07 728.14L574.23 728.21L575.39 728.28L576.55 728.35L577.71 728.42L578.87 728.5L580.03 728.57L581.19 728.64L582.35 728.72L583.51 728.79L584.67 728.87L585.83 728.94L586.99 729.02L588.15 729.09L589.32 729.17L590.48 729.24L591.64 729.32L592.8 729.4L593.96 729.47L595.12 729.55L596.28 729.63L597.44 729.71L598.6 729.78L599.76 729.86L600.92 729.94L602.08 730.02L603.24 730.1L604.4 730.17L605.56 730.25L606.72 730.33L607.88 730.41L609.04 730.49L610.2 730.57L611.36 730.65L612.52 730.72L613.69 730.8L614.85 730.88L616.01 730.96L617.17 731.04L618.33 731.12L619.49 731.2L620.65 731.27L621.81 731.35L622.97 731.43L624.13 731.51L625.29 731.59L626.45 731.66L627.61 731.74L628.77 731.82L629.93 731.9L631.09 731.97L632.25 732.05L633.41 732.13L634.57 732.21L635.74 732.28L636.9 732.36L638.06 732.43L639.22 732.51L640.38 732.59L641.54 732.66L642.7 732.74L643.86 732.81L645.02 732.89L646.18 732.96L647.34 733.04L648.5 733.11L649.66 733.18L650.82 733.26L651.98 733.33L653.14 733.4L654.3 733.48L655.46 733.55L656.62 733.62L657.78 733.69L658.95 733.76L660.11 733.83L661.27 733.91L662.43 733.98L663.59 734.05L664.75 734.12L665.91 734.19L667.07 734.25L668.23 734.32L669.39 734.39L670.55 734.46L671.71 734.53L672.87 734.59L674.03 734.66L675.19 734.73L676.35 734.79L677.51 734.86L678.67 734.92L679.83 734.99L680.99 735.05L682.15 735.12L683.32 735.18L684.48 735.25L685.64 735.31L686.8 735.37L687.96 735.43L689.12 735.49L690.28 735.56L691.44 735.62L692.6 735.68L693.76 735.74L694.92 735.8L696.08 735.86L697.24 735.92L698.4 735.97L699.56 736.03L700.72 736.09L701.88 736.15L703.04 736.2L704.2 736.26L705.37 736.32L706.53 736.37L707.69 736.43L708.85 736.48L710.01 736.54L711.17 736.59L712.33 736.64L713.49 736.7L714.65 736.75L715.81 736.8L716.97 736.85L718.13 736.9L719.29 736.95L720.45 737.01L721.61 737.06L722.77 737.11L723.93 737.15L725.09 737.2L726.25 737.25L727.41 737.3L728.58 737.35L729.74 737.39L730.9 737.44L732.06 737.49L733.22 737.53L734.38 737.58L735.54 737.62L736.7 737.67L737.86 737.71L739.02 737.76L740.18 737.8L741.34 737.84L742.5 737.89L743.66 737.93L744.82 737.97L745.98 738.01L747.14 738.05L748.3 738.09L749.46 738.13L750.62 738.17L751.79 738.21L752.95 738.25L754.11 738.29L755.27 738.33L756.43 738.37L757.59 738.4L758.75 738.44L759.91 738.48L761.07 738.51L762.23 738.55L763.39 738.59L764.55 738.62L765.71 738.66L766.87 738.69L768.03 738.73L769.19 738.76L770.35 738.79L771.51 738.83L772.67 738.86L773.83 738.89L775 738.92L776.16 738.96L777.32 738.99L778.48 739.02L779.64 739.05L780.8 739.08L781.96 739.11L783.12 739.14L784.28 739.17L785.44 739.2L786.6 739.23" fill="none" stroke="#00ff00" stroke-width="3.3" stroke-linecap="butt" stroke-linejoin="round" stroke-dasharray="2.3 3.9" stroke-dashoffset="0.65"/>
<path d="M148.32 217.62V107.05" fill="none" stroke="#00ff00" stroke-width="3.3" stroke-linecap="butt" stroke-linejoin="round" stroke-dasharray="2.3 3.94" stroke-dashoffset="-0.2"/>
</g>
<path d="M57.78 729.55L54.42 730.67L52.19 734.03L51.07 739.62L51.07 742.98L52.19 748.57L54.42 751.93L57.78 753.05L60.02 753.05L63.38 751.93L65.61 748.57L66.73 742.98L66.73 739.62L65.61 734.03L63.38 730.67L60.02 729.55L57.78 729.55M57.78 729.55L55.54 730.67L54.42 731.79L53.3 734.03L52.19 739.62L52.19 742.98L53.3 748.57L54.42 750.81L55.54 751.93L57.78 753.05M60.02 753.05L62.26 751.93L63.38 750.81L64.5 748.57L65.61 742.98L65.61 739.62L64.5 734.03L63.38 731.79L62.26 730.67L60.02 729.55" fill="none" stroke="#000" stroke-width="3.3" stroke-linecap="butt" stroke-linejoin="bevel"/>
<path d="M89.28 761.45L85.92 762.57L83.69 765.93L82.57 771.52L82.57 774.88L83.69 780.47L85.92 783.83L89.28 784.95L91.52 784.95L94.88 783.83L97.11 780.47L98.23 774.88L98.23 771.52L97.11 765.93L94.88 762.57L91.52 761.45L89.28 761.45M89.28 761.45L87.04 762.57L85.92 763.69L84.81 765.93L83.69 771.52L83.69 774.88L84.81 780.47L85.92 782.71L87.04 783.83L89.28 784.95M91.52 784.95L93.76 783.83L94.88 782.71L96 780.47L97.11 774.88L97.11 771.52L96 765.93L94.88 763.69L93.76 762.57L91.52 761.45" fill="none" stroke="#000" stroke-width="3.3" stroke-linecap="butt" stroke-linejoin="bevel"/>
<path d="M422 807.78L422 827.8M423.43 807.78L423.43 827.8M423.43 816.36L424.86 812.07L427.71 809.21L430.57 807.78L434.87 807.78L436.3 809.21L436.3 810.64L434.87 812.07L433.44 810.64L434.87 809.21M417.7 807.78L423.43 807.78M417.7 827.8L427.71 827.8" fill="none" stroke="#000" stroke-width="3.3" stroke-linecap="butt" stroke-linejoin="bevel"/>
<path d="M5.36 523.12L6.76 524.52L8.15 523.12L6.76 521.72L5.36 521.72L3.96 523.12L3.96 525.91L5.36 528.71L8.15 530.11L33.3 530.11M3.96 525.91L5.36 527.31L8.15 528.71L33.3 528.71M13.74 534.3L13.74 523.12M33.3 534.3L33.3 524.52M3.96 511.94L33.3 511.94M3.96 510.55L33.3 510.55M3.96 516.14L3.96 510.55M33.3 516.14L33.3 506.36M13.74 496.58L29.11 496.58L31.9 495.18L33.3 490.99L33.3 488.2L31.9 484L29.11 481.21M13.74 495.18L29.11 495.18L31.9 493.78L33.3 490.99M13.74 481.21L33.3 481.21M13.74 479.81L33.3 479.81M13.74 500.77L13.74 495.18M13.74 485.4L13.74 479.81M33.3 481.21L33.3 475.62M13.74 467.24L33.3 451.87M13.74 465.84L33.3 450.48M13.74 450.48L33.3 467.24M13.74 470.03L13.74 461.65M13.74 456.06L13.74 447.68M33.3 470.03L33.3 461.65M33.3 456.06L33.3 447.68M3.96 401.58L33.3 401.58M3.96 400.19L33.3 400.19M17.93 401.58L15.14 404.38L13.74 407.17L13.74 409.96L15.14 414.15L17.93 416.95L22.12 418.35L24.92 418.35L29.11 416.95L31.9 414.15L33.3 409.96L33.3 407.17L31.9 404.38L29.11 401.58M13.74 409.96L15.14 412.76L17.93 415.55L22.12 416.95L24.92 416.95L29.11 415.55L31.9 412.76L33.3 409.96M3.96 405.77L3.96 400.19M33.3 401.58L33.3 395.99M22.12 387.61L22.12 370.85L19.33 370.85L16.54 372.25L15.14 373.64L13.74 376.44L13.74 380.63L15.14 384.82L17.93 387.61L22.12 389.01L24.92 389.01L29.11 387.61L31.9 384.82L33.3 380.63L33.3 377.83L31.9 373.64L29.11 370.85M22.12 372.25L17.93 372.25L15.14 373.64M13.74 380.63L15.14 383.42L17.93 386.21L22.12 387.61L24.92 387.61L29.11 386.21L31.9 383.42L33.3 380.63M13.74 359.67L33.3 359.67M13.74 358.27L33.3 358.27M17.93 358.27L15.14 355.48L13.74 351.29L13.74 348.5L15.14 344.31L17.93 342.91L33.3 342.91M13.74 348.5L15.14 345.7L17.93 344.31L33.3 344.31M13.74 363.86L13.74 358.27M33.3 363.86L33.3 354.08M33.3 348.5L33.3 338.72M16.54 317.76L13.74 316.37L19.33 316.37L16.54 317.76L15.14 319.16L13.74 321.95L13.74 327.54L15.14 330.33L16.54 331.73L19.33 331.73L20.73 330.33L22.12 327.54L24.92 320.56L26.32 317.76L27.71 316.37M17.93 331.73L19.33 330.33L20.73 327.54L23.52 320.56L24.92 317.76L26.32 316.37L30.51 316.37L31.9 317.76L33.3 320.56L33.3 326.14L31.9 328.94L30.51 330.33L27.71 331.73L33.3 331.73L30.51 330.33M3.96 305.19L5.36 306.59L6.76 305.19L5.36 303.79L3.96 305.19M13.74 305.19L33.3 305.19M13.74 303.79L33.3 303.79M13.74 309.38L13.74 303.79M33.3 309.38L33.3 299.6M3.96 289.82L27.71 289.82L31.9 288.42L33.3 285.63L33.3 282.84L31.9 280.04L29.11 278.65M3.96 288.42L27.71 288.42L31.9 287.03L33.3 285.63M13.74 294.01L13.74 282.84M13.74 270.26L33.3 261.88M13.74 268.87L30.51 261.88M13.74 253.5L33.3 261.88L38.89 264.68L41.68 267.47L43.08 270.26L43.08 271.66L41.68 273.06L40.29 271.66L41.68 270.26M13.74 273.06L13.74 264.68M13.74 259.09L13.74 250.71" fill="none" stroke="#000" stroke-width="3.3" stroke-linecap="butt" stroke-linejoin="bevel"/>
<path d="M175.78 87.03L175.78 122.83M191.44 92.62L190.32 93.74L191.44 94.86L192.56 93.74L192.56 92.62L191.44 91.5L189.2 91.5L186.97 92.62L185.85 94.86L185.85 115M189.2 91.5L188.09 92.62L186.97 94.86L186.97 115M182.49 99.33L191.44 99.33M182.49 115L190.32 115M200.17 116.34L198.83 117.01L198.16 117.69L197.48 119.03L197.48 120.37L198.16 121.71L198.83 122.39L200.17 123.06L201.51 123.06L202.86 122.39L203.53 121.71L204.2 120.37L204.2 119.03L203.53 117.69L202.86 117.01L201.51 116.34L200.17 116.34M198.83 117.01L198.16 118.36L198.16 121.04L198.83 122.39M202.86 122.39L203.53 121.04L203.53 118.36L202.86 117.01M203.53 117.69L204.2 117.01L205.54 116.34L205.54 117.01L204.2 117.01M198.16 121.71L197.48 122.39L196.81 123.73L196.81 124.4L197.48 125.74L199.5 126.41L202.86 126.41L204.87 127.09L205.54 127.76M196.81 124.4L197.48 125.07L199.5 125.74L202.86 125.74L204.87 126.41L205.54 127.76L205.54 128.43L204.87 129.77L202.86 130.44L198.83 130.44L196.81 129.77L196.14 128.43L196.14 127.76L196.81 126.41L198.83 125.74M212.03 104.93L232.17 104.93M244.48 99.33L237.77 122.83M245.6 99.33L238.89 122.83M244.48 102.69L243.36 109.41L243.36 112.76L245.6 115L247.84 115L250.08 113.88L252.32 111.64L254.55 108.29M256.79 99.33L253.43 111.64L253.43 113.88L254.55 115L257.91 115L260.15 112.76L261.27 110.52M257.91 99.33L254.55 111.64L254.55 113.88L255.67 115M266.86 87.03L266.86 122.83" fill="none" stroke="#00ff00" stroke-width="3.3" stroke-linecap="butt" stroke-linejoin="bevel"/>
<path d="M167.83 265.33L161.12 288.83M168.95 265.33L162.24 288.83M167.83 268.69L166.71 275.4L166.71 278.76L168.95 281L171.19 281L173.43 279.88L175.67 277.64L177.9 274.29M180.14 265.33L176.78 277.64L176.78 279.88L177.9 281L181.26 281L183.5 278.76L184.62 276.52M181.26 265.33L177.9 277.64L177.9 279.88L179.02 281" fill="none" stroke="#000" stroke-width="3.3" stroke-linecap="butt" stroke-linejoin="bevel"/>
<path d="M275.49 268.92L274.37 270.04L275.49 271.16L276.61 270.04L276.61 268.92L275.49 267.8L273.25 267.8L271.01 268.92L269.9 271.16L269.9 291.3M273.25 267.8L272.13 268.92L271.01 271.16L271.01 291.3M266.54 275.63L275.49 275.63M266.54 291.3L274.37 291.3M284.22 292.64L282.88 293.31L282.2 293.99L281.53 295.33L281.53 296.67L282.2 298.01L282.88 298.69L284.22 299.36L285.56 299.36L286.9 298.69L287.58 298.01L288.25 296.67L288.25 295.33L287.58 293.99L286.9 293.31L285.56 292.64L284.22 292.64M282.88 293.31L282.2 294.66L282.2 297.34L282.88 298.69M286.9 298.69L287.58 297.34L287.58 294.66L286.9 293.31M287.58 293.99L288.25 293.31L289.59 292.64L289.59 293.31L288.25 293.31M282.2 298.01L281.53 298.69L280.86 300.03L280.86 300.7L281.53 302.04L283.55 302.71L286.9 302.71L288.92 303.39L289.59 304.06M280.86 300.7L281.53 301.37L283.55 302.04L286.9 302.04L288.92 302.71L289.59 304.06L289.59 304.73L288.92 306.07L286.9 306.74L282.88 306.74L280.86 306.07L280.19 304.73L280.19 304.06L280.86 302.71L282.88 302.04" fill="none" stroke="#0000ff" stroke-width="3.3" stroke-linecap="butt" stroke-linejoin="bevel"/>
<path d="M275.59 461.62L274.47 462.74L275.59 463.86L276.71 462.74L276.71 461.62L275.59 460.5L273.35 460.5L271.11 461.62L270 463.86L270 484M273.35 460.5L272.23 461.62L271.11 463.86L271.11 484M266.64 468.33L275.59 468.33M266.64 484L274.47 484M282.3 480.64L282.3 494.74M282.98 480.64L282.98 494.74M282.98 487.36L284.32 486.01L285.66 485.34L287 485.34L289.02 486.01L290.36 487.36L291.03 489.37L291.03 490.71L290.36 492.73L289.02 494.07L287 494.74L285.66 494.74L284.32 494.07L282.98 492.73M287 485.34L288.35 486.01L289.69 487.36L290.36 489.37L290.36 490.71L289.69 492.73L288.35 494.07L287 494.74M280.29 480.64L282.98 480.64" fill="none" stroke="#ff0000" stroke-width="3.3" stroke-linecap="butt" stroke-linejoin="bevel"/>
<path d="M211.66 575.58L211.66 591.25M212.77 575.58L212.77 591.25M212.77 578.94L215.01 576.7L218.37 575.58L220.61 575.58L223.96 576.7L225.08 578.94L225.08 591.25M220.61 575.58L222.84 576.7L223.96 578.94L223.96 591.25M208.3 575.58L212.77 575.58M208.3 591.25L216.13 591.25M220.61 591.25L228.44 591.25M206.28 570.6L231.01 570.6M263.13 575.58L251.94 575.58L248.58 576.7L246.34 580.06L245.22 583.42L245.22 586.77L246.34 589.01L247.46 590.13L249.7 591.25L251.94 591.25L255.3 590.13L257.53 586.77L258.65 583.42L258.65 580.06L257.53 577.82L256.42 576.7L254.18 575.58M251.94 575.58L249.7 576.7L247.46 580.06L246.34 583.42L246.34 587.89L247.46 590.13M251.94 591.25L254.18 590.13L256.42 586.77L257.53 583.42L257.53 578.94L256.42 576.7M256.42 576.7L263.13 576.7M279.91 571.11L279.91 591.25M269.84 581.18L289.99 581.18M305.65 567.75L297.82 591.25M305.65 567.75L313.48 591.25M305.65 571.11L312.37 591.25M300.06 584.54L310.13 584.54M295.58 591.25L302.29 591.25M309.01 591.25L315.72 591.25M332.51 563.27L332.51 599.08M344.82 575.58L338.1 599.08M345.94 575.58L339.22 599.08M344.82 578.94L343.7 585.65L343.7 589.01L345.94 591.25L348.17 591.25L350.41 590.13L352.65 587.89L354.89 584.54M357.12 575.58L353.77 587.89L353.77 590.13L354.89 591.25L358.24 591.25L360.48 589.01L361.6 586.77M358.24 575.58L354.89 587.89L354.89 590.13L356.01 591.25M367.2 563.27L367.2 599.08" fill="none" stroke="#ff00ff" stroke-width="3.3" stroke-linecap="butt" stroke-linejoin="bevel"/>
<path d="M235.15 580.06L235.15 582.3L237.39 582.3L237.39 580.06L235.15 580.06M236.27 580.06L236.27 582.3M235.15 581.18L237.39 581.18M321.32 580.06L321.32 582.3L323.56 582.3L323.56 580.06L321.32 580.06M322.44 580.06L322.44 582.3M321.32 581.18L323.56 581.18" fill="none" stroke="#ff00ff" stroke-width="2.6" stroke-linecap="butt" stroke-linejoin="bevel"/>
<path d="M333.1 685.13L333.1 700.8M334.21 685.13L334.21 700.8M334.21 688.49L336.45 686.25L339.81 685.13L342.05 685.13L345.4 686.25L346.52 688.49L346.52 700.8M342.05 685.13L344.29 686.25L345.4 688.49L345.4 700.8M329.74 685.13L334.21 685.13M329.74 700.8L337.57 700.8M342.05 700.8L349.88 700.8M327.72 680.15L352.45 680.15M384.57 685.13L373.38 685.13L370.02 686.25L367.78 689.61L366.67 692.97L366.67 696.32L367.78 698.56L368.9 699.68L371.14 700.8L373.38 700.8L376.74 699.68L378.97 696.32L380.09 692.97L380.09 689.61L378.97 687.37L377.86 686.25L375.62 685.13M373.38 685.13L371.14 686.25L368.9 689.61L367.78 692.97L367.78 697.44L368.9 699.68M373.38 700.8L375.62 699.68L377.86 696.32L378.97 692.97L378.97 688.49L377.86 686.25M377.86 686.25L384.57 686.25" fill="none" stroke="#000" stroke-width="3.3" stroke-linecap="butt" stroke-linejoin="bevel"/>
<path d="M356.59 689.61L356.59 691.85L358.83 691.85L358.83 689.61L356.59 689.61M357.71 689.61L357.71 691.85M356.59 690.73L358.83 690.73" fill="none" stroke="#000" stroke-width="2.6" stroke-linecap="butt" stroke-linejoin="bevel"/>
</svg></body></html>
